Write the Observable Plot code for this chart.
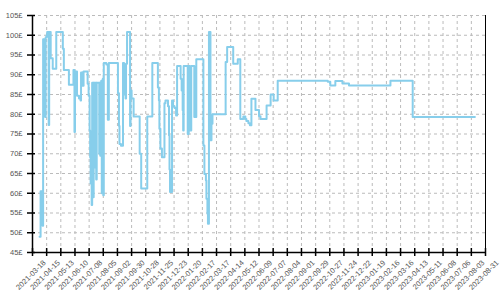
<!DOCTYPE html>
<html>
<head>
<meta charset="utf-8">
<script src="https://cdn.jsdelivr.net/npm/d3@7"></script>
<script src="https://cdn.jsdelivr.net/npm/@observablehq/plot@0.6"></script>
<style>
  html, body { margin: 0; padding: 0; background: #fff; }
</style>
</head>
<body>
<div id="chart"></div>
<script>
const dates = [
  "2021-04-01","2021-04-03","2021-04-05","2021-04-06","2021-04-07","2021-04-08","2021-04-09","2021-04-10","2021-04-12","2021-04-13",
  "2021-04-15","2021-04-16","2021-04-19","2021-04-20","2021-04-23","2021-04-27","2021-05-04","2021-05-17","2021-05-19","2021-05-29",
  "2021-06-07","2021-06-09","2021-06-10","2021-06-14","2021-06-18","2021-06-21","2021-06-22","2021-06-25","2021-06-27","2021-07-05",
  "2021-07-07","2021-07-09","2021-07-10","2021-07-11","2021-07-12","2021-07-13","2021-07-14","2021-07-16","2021-07-17","2021-07-19",
  "2021-07-20","2021-07-22","2021-07-23","2021-07-28","2021-07-29","2021-07-30","2021-08-01","2021-08-02","2021-08-04","2021-08-05",
  "2021-08-06","2021-08-11","2021-08-14","2021-08-16","2021-09-03","2021-09-05","2021-09-06","2021-09-09","2021-09-13","2021-09-15",
  "2021-09-17","2021-09-18","2021-09-19","2021-09-21","2021-09-27","2021-09-28","2021-09-30","2021-10-04","2021-10-16","2021-10-19",
  "2021-10-31","2021-11-10","2021-11-21","2021-11-23","2021-11-24","2021-11-26","2021-11-29","2021-12-04","2021-12-06","2021-12-11",
  "2021-12-13","2021-12-14","2021-12-15","2021-12-19","2021-12-21","2021-12-24","2021-12-27","2021-12-29","2022-01-05","2022-01-07",
  "2022-01-09","2022-01-10","2022-01-11","2022-01-19","2022-01-21","2022-01-23","2022-01-26","2022-02-01","2022-02-05","2022-02-19",
  "2022-02-21","2022-02-24","2022-02-25","2022-02-27","2022-02-28","2022-03-02","2022-03-05","2022-03-07","2022-03-09","2022-04-04",
  "2022-04-07","2022-04-19","2022-04-28","2022-05-03","2022-05-09","2022-05-13","2022-05-15","2022-05-19","2022-05-22","2022-05-25",
  "2022-06-02","2022-06-09","2022-06-12","2022-06-24","2022-07-02","2022-07-08","2022-07-16","2022-10-23","2022-10-28","2022-11-07",
  "2022-11-21","2022-12-04","2023-02-24","2023-04-09","2023-08-10"
];
const prices = [
  49, 60.5, 52, 60.5, 51.8, 99, 87.3, 99, 79.3, 99.5,
  100, 100.8, 77.3, 100.8, 94.2, 91.5, 100.8, 96.6, 91.2, 87.5,
  91.2, 75.5, 90.8, 84.7, 84, 83.5, 90.6, 87.2, 90.8, 87.7,
  84.7, 75.9, 69.1, 62.5, 75, 57, 88, 59, 88, 66.5,
  88, 63.5, 88, 70, 88, 69.5, 88.5, 60, 89, 59.5,
  93, 92.6, 78.6, 93, 85.3, 77, 72.5, 72, 93, 85,
  92.6, 84, 92.8, 100.8, 77, 86, 84, 79.4, 70, 61.2,
  79.4, 93, 86.8, 83.5, 76.3, 71.3, 69.1, 82.8, 83.5, 82,
  74.6, 66, 60.3, 83.5, 82, 81.6, 79.7, 92.2, 89, 86,
  81, 75.9, 92.2, 75, 92.2, 75.9, 92.2, 79.3, 93.9, 72.1,
  64.9, 63.2, 58.6, 54.8, 52.3, 100.8, 73.4, 77.6, 80, 93.2,
  97, 92.8, 93.9, 78.8, 79.4, 78.8, 78.3, 77.7, 77.2, 83.9,
  81.1, 79.5, 78.8, 82.2, 85, 83.5, 88.5, 88.2, 87.3, 88.4,
  87.8, 87.3, 88.5, 79.3, 79.3
];
const tickLabels = [
  "2021-03-18","2021-04-15","2021-05-13","2021-06-10","2021-07-08","2021-08-05","2021-09-02","2021-09-30",
  "2021-10-28","2021-11-25","2021-12-23","2022-01-20","2022-02-17","2022-03-17","2022-04-14","2022-05-12",
  "2022-06-09","2022-07-07","2022-08-04","2022-09-01","2022-09-29","2022-10-27","2022-11-24","2022-12-22",
  "2023-01-19","2023-02-16","2023-03-16","2023-04-13","2023-05-11","2023-06-08","2023-07-06","2023-08-03",
  "2023-08-31"
];
const yTicks = [45, 50, 55, 60, 65, 70, 75, 80, 85, 90, 95, 100, 105];

const data = dates.map((d, i) => ({date: new Date(d), price: prices[i]}));
const xTicks = tickLabels.map(s => new Date(s));
const xDomain = [xTicks[0], xTicks[xTicks.length - 1]];
const yDomain = [yTicks[0], yTicks[yTicks.length - 1]];
const textColor = "#555";
const gridStyle = {stroke: "#bbb", strokeOpacity: 1, strokeWidth: 1, strokeDasharray: "3,3"};

const chart = Plot.plot({
  width: 500,
  height: 300,
  marginLeft: 32,
  marginRight: 15,
  marginTop: 15,
  marginBottom: 48,
  style: {fontFamily: "'Liberation Sans', Arial, sans-serif", fontSize: "7.5px", background: "#fff"},
  x: {type: "utc", domain: xDomain, label: null},
  y: {domain: yDomain, label: null},
  marks: [
    Plot.gridX(xTicks, gridStyle),
    Plot.gridY(yTicks, gridStyle),
    Plot.line(data, {x: "date", y: "price", curve: "step-after", stroke: "#87CEEB", strokeWidth: 2}),
    Plot.ruleY([yDomain[0]], {stroke: "#000", strokeWidth: 1.5}),
    Plot.ruleX([xDomain[0]], {stroke: "#000", strokeWidth: 1.5}),
    Plot.ruleX([xDomain[1]], {stroke: "#000", strokeWidth: 1}),
    Plot.axisY(yTicks, {
      tickSize: 8, dx: 3, tickPadding: 5, stroke: "#000", strokeWidth: 1.5,
      fill: textColor, tickFormat: d => d + "£", label: null
    }),
    Plot.axisX(xTicks, {
      tickSize: 8, dy: -4, stroke: "#000", strokeWidth: 1.5,
      fill: "none", tickFormat: () => "", label: null
    }),
    Plot.text(xTicks, {
      x: d => d, frameAnchor: "bottom", text: (d, i) => tickLabels[i],
      rotate: -45, textAnchor: "end", lineAnchor: "middle",
      dx: 12, dy: 9, fill: textColor
    })
  ]
});
document.getElementById("chart").appendChild(chart);
</script>
</body>
</html>
